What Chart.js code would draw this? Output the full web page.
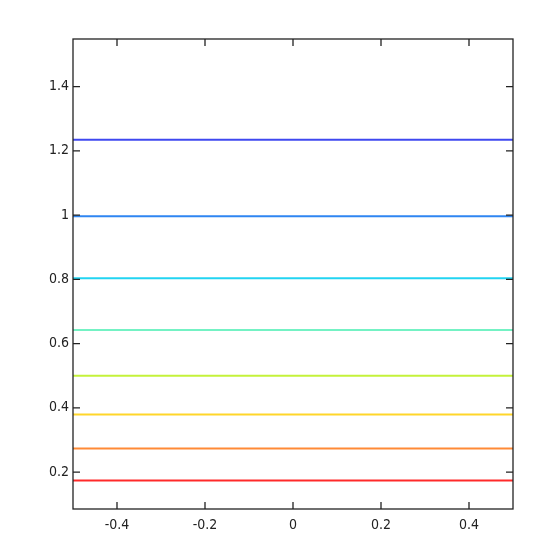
<!DOCTYPE html>
<html>
<head>
<meta charset="utf-8">
<script src="https://cdn.jsdelivr.net/npm/chart.js@4"></script>
<style>
  html, body { margin: 0; padding: 0; background: #fff; }
  #wrap { width: 547px; height: 556px; }
</style>
</head>
<body>
<div id="wrap"><canvas id="levelChart" width="547" height="556"></canvas></div>
<script>
// 数据
const xEnds = [-0.5, 0.5];
const levels = [1.234, 0.996, 0.803, 0.642, 0.5, 0.379, 0.273, 0.174];
const levelColors = ['#3f48f0', '#2f86f2', '#22d4f2', '#74f2c4', '#c4f23a', '#ffd62a', '#ff8a36', '#ff2a2a'];
const xTicks = [-0.4, -0.2, 0, 0.2, 0.4];
const yTicks = [0.2, 0.4, 0.6, 0.8, 1, 1.2, 1.4];
const xRange = [-0.5, 0.5];
const yRange = [0.085, 1.548];

const fmt = v => String(Math.round(v * 10) / 10);

// 边框和向内的刻度线
const frameTicks = {
    id: 'frameTicks',
    afterDatasetsDraw(chart) {
        const { ctx, chartArea: a, scales } = chart;
        const len = 7;
        ctx.save();
        ctx.strokeStyle = '#222';
        ctx.lineWidth = 1.3;
        ctx.strokeRect(a.left, a.top, a.right - a.left, a.bottom - a.top);
        ctx.beginPath();
        xTicks.forEach(v => {
            const x = scales.x.getPixelForValue(v);
            ctx.moveTo(x, a.bottom); ctx.lineTo(x, a.bottom - len);
            ctx.moveTo(x, a.top); ctx.lineTo(x, a.top + len);
        });
        yTicks.forEach(v => {
            const y = scales.y.getPixelForValue(v);
            ctx.moveTo(a.left, y); ctx.lineTo(a.left + len, y);
            ctx.moveTo(a.right, y); ctx.lineTo(a.right - len, y);
        });
        ctx.stroke();
        ctx.restore();
    }
};

const datasets = levels.map((lv, i) => ({
    data: xEnds.map(x => ({ x: x, y: lv })),
    borderColor: levelColors[i],
    borderWidth: 2,
    pointRadius: 0,
    fill: false
}));

const tickFont = { family: '"Liberation Sans Narrow", "DejaVu Sans Condensed", "DejaVu Sans", sans-serif', size: 14 };

new Chart(document.getElementById('levelChart'), {
    type: 'line',
    data: { datasets: datasets },
    options: {
        responsive: false,
        animation: false,
        layout: { padding: { top: 39, right: 34, bottom: 0, left: 0 } },
        plugins: { legend: { display: false }, tooltip: { enabled: false } },
        scales: {
            x: {
                type: 'linear',
                min: xRange[0],
                max: xRange[1],
                afterBuildTicks: s => { s.ticks = xTicks.map(v => ({ value: v })); },
                afterFit: s => { s.height = 47; },
                grid: { display: true, drawOnChartArea: false, drawTicks: false },
                border: { display: false },
                ticks: { color: '#222', font: tickFont, padding: 8, maxRotation: 0, callback: fmt }
            },
            y: {
                type: 'linear',
                min: yRange[0],
                max: yRange[1],
                afterBuildTicks: s => { s.ticks = yTicks.map(v => ({ value: v })); },
                afterFit: s => { s.width = 73; },
                grid: { display: true, drawOnChartArea: false, drawTicks: false },
                border: { display: false },
                ticks: { color: '#222', font: tickFont, padding: 4, callback: fmt }
            }
        }
    },
    plugins: [frameTicks]
});
</script>
</body>
</html>
